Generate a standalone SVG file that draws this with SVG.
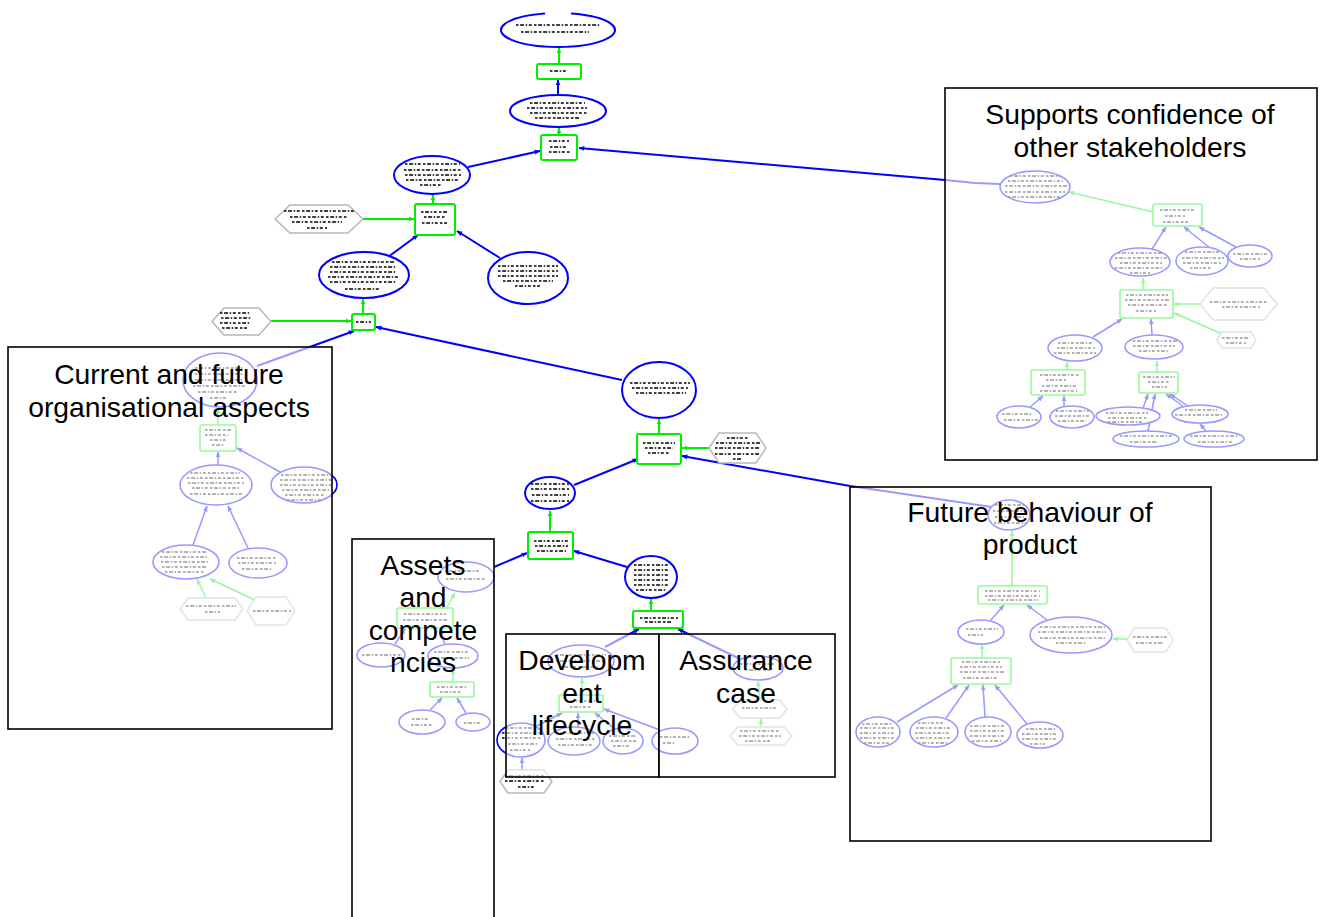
<svg xmlns="http://www.w3.org/2000/svg" width="1323" height="917" viewBox="0 0 1323 917">
<style>
.e{fill:#fff;stroke:#0000ff;stroke-width:2}
.e2{fill:#fff;stroke:#0000ff;stroke-width:1.6}
.r{fill:#fff;stroke:#00ee00;stroke-width:2}
.r2{fill:#fff;stroke:#00ee00;stroke-width:1.6}
.h{fill:#fff;stroke:#b8b8b8;stroke-width:1.5}
.t{fill:none;stroke:#000;stroke-width:1.7;stroke-dasharray:2.5 1.6 4 1.6 1.5 1.6 3 2.2}
.t2{fill:none;stroke:#000;stroke-width:1.3;stroke-dasharray:2.5 1.6 4 1.6 1.5 1.6 3 2.2}
.cb{fill:none;stroke:#0000ff;stroke-width:2;marker-end:url(#ab)}
.cg{fill:none;stroke:#00ee00;stroke-width:2;marker-end:url(#ag)}
.cb2{fill:none;stroke:#0000ff;stroke-width:1.5;marker-end:url(#ab)}
.cg2{fill:none;stroke:#00ee00;stroke-width:1.5;marker-end:url(#ag)}
.box{fill:#fff;fill-opacity:.6;stroke:#000;stroke-width:1.6}
.lbl{font-family:"Liberation Sans",Arial,Helvetica,sans-serif;font-size:28.3px;text-anchor:middle;fill:#000}
</style>
<defs>
<marker id="ab" viewBox="0 0 10 10" refX="9" refY="5" markerWidth="6" markerHeight="6" orient="auto" markerUnits="userSpaceOnUse"><path d="M0 1L10 5L0 9z" fill="#0000ff"/></marker>
<marker id="ag" viewBox="0 0 10 10" refX="9" refY="5" markerWidth="6" markerHeight="6" orient="auto" markerUnits="userSpaceOnUse"><path d="M0 1L10 5L0 9z" fill="#00ee00"/></marker>
</defs>
<rect width="1323" height="917" fill="#fff"/>

<g id="connectors">
<path class="cg" d="M559 64L559 48"/>
<path class="cb" d="M558 95L558 80"/>
<path class="cg" d="M559 135L559 128"/>
<path class="cb" d="M468 167L540 151"/>
<path class="cb" d="M1000 184L975 183L945 180L579 148"/>
<path class="cg" d="M433 204L433 195"/>
<path class="cg" d="M363 219L414 219"/>
<path class="cb" d="M388 257L418 235"/>
<path class="cb" d="M500 258L457 231"/>
<path class="cg" d="M363 314L363 299"/>
<path class="cg" d="M271 321L351 321"/>
<path class="cb" d="M257 366L354 331"/>
<path class="cb" d="M622 380L376 327"/>
<path class="cg" d="M659 434L659 419"/>
<path class="cg" d="M709 448L682 448"/>
<path class="cb" d="M992 507L850 486L682 456"/>
<path class="cb" d="M574 485L638 459"/>
<path class="cg" d="M550 532L550 511"/>
<path class="cb" d="M494 567L527 553"/>
<path class="cb" d="M627 567L574 551"/>
<path class="cg" d="M651 611L651 599"/>
<path class="cb" d="M605 647L639 629"/>
<path class="cb" d="M740 659L678 629"/>
<path class="cg2" d="M1153 212L1069 192"/>
<path class="cb2" d="M1152 249L1166 227"/>
<path class="cb2" d="M1210 248L1184 227"/>
<path class="cb2" d="M1236 247L1199 227"/>
<path class="cg2" d="M1143 290L1143 278"/>
<path class="cg2" d="M1200 304L1174 304"/>
<path class="cg2" d="M1222 334L1174 313"/>
<path class="cb2" d="M1093 337L1122 319"/>
<path class="cb2" d="M1152 335L1151 319"/>
<path class="cg2" d="M1067 370L1067 362"/>
<path class="cg2" d="M1157 372L1157 361"/>
<path class="cb2" d="M1030 407L1043 396"/>
<path class="cb2" d="M1064 406L1064 396"/>
<path class="cb2" d="M1143 408L1148 394"/>
<path class="cb2" d="M1148 431L1155 394"/>
<path class="cb2" d="M1188 406L1170 394"/>
<path class="cb2" d="M1183 406L1166 394"/>
<path class="cb2" d="M1206 431L1200 424"/>
<path class="cg2" d="M218 425L218 408"/>
<path class="cb2" d="M218 465L218 452"/>
<path class="cb2" d="M280 472L237 448"/>
<path class="cb2" d="M193 545L207 506"/>
<path class="cb2" d="M248 548L228 506"/>
<path class="cg2" d="M206 598L197 579"/>
<path class="cg2" d="M255 600L210 579"/>
<path class="cg2" d="M447 607L455 593"/>
<path class="cb2" d="M395 644L405 629"/>
<path class="cb2" d="M445 645L440 629"/>
<path class="cg2" d="M453 682L453 669"/>
<path class="cb2" d="M430 710L442 698"/>
<path class="cb2" d="M466 713L457 698"/>
<path class="cg2" d="M582 695L582 678"/>
<path class="cb2" d="M537 726L562 713"/>
<path class="cb2" d="M578 727L578 713"/>
<path class="cb2" d="M615 729L595 713"/>
<path class="cb2" d="M660 730L604 709"/>
<path class="cb2" d="M522 770L522 758"/>
<path class="cg2" d="M760 700L758 681"/>
<path class="cg2" d="M761 727L761 719"/>
<path class="cg2" d="M1012 586L1012 531"/>
<path class="cb2" d="M990 621L1004 605"/>
<path class="cb2" d="M1047 620L1027 605"/>
<path class="cg2" d="M1127 639L1113 639"/>
<path class="cg2" d="M982 658L982 644"/>
<path class="cb2" d="M897 722L958 685"/>
<path class="cb2" d="M946 718L969 685"/>
<path class="cb2" d="M985 717L983 685"/>
<path class="cb2" d="M1027 724L995 685"/>
</g>

<g id="n1"><path class="e" d="M571 13.45A57 17 0 1 1 545 13.45"/><path class="t" d="M516 25h84M521 32h68"/></g>
<g id="n2"><rect class="r" x="537" y="64" width="44" height="15" rx="2"/><path class="t" d="M550 71h18"/></g>
<g id="n3"><ellipse class="e" cx="558" cy="111" rx="48" ry="16"/><path class="t" d="M530 103h55M527 108h60M530 113h57M535 118h45"/></g>
<g id="n4"><rect class="r" x="541" y="135" width="36" height="25" rx="2"/><path class="t" d="M549 141h20M550 147h18M549 152h21"/></g>
<g id="n5"><ellipse class="e" cx="432" cy="175" rx="38" ry="19"/><path class="t" d="M405 164h55M404 170h57M405 175h56M406 180h53M420 185h22"/></g>
<g id="n6"><rect class="r" x="415" y="204" width="40" height="31" rx="2"/><path class="t" d="M421 212h27M424 217h22M422 223h25"/></g>
<g id="n7"><polygon class="h" points="275,219 290,205 348,205 363,219 348,233 290,233"/><path class="t" d="M284 211h70M290 217h57M292 222h50M307 228h20"/></g>
<g id="n8"><ellipse class="e" cx="364" cy="275" rx="45" ry="23"/><path class="t" d="M332 262h62M330 267h66M330 272h66M328 277h70M330 282h66M345 289h35"/></g>
<g id="n9"><ellipse class="e" cx="528" cy="278" rx="40" ry="26"/><path class="t" d="M498 266h60M498 271h60M498 276h60M503 281h50M515 286h25"/></g>
<g id="n10"><rect class="r" x="352" y="314" width="23" height="16" rx="2"/><path class="t" d="M356 322h15"/></g>
<g id="n11"><polygon class="h" points="212,321.5 224,308 259,308 271,321.5 259,335 224,335"/><path class="t" d="M220 313h30M221 318h30M220 323h30M222 328h25"/></g>
<g id="n12"><ellipse class="e" cx="659" cy="390" rx="37" ry="28"/><path class="t" d="M630 383h60M632 388h56M636 393h50"/></g>
<g id="n13"><rect class="r" x="637" y="434" width="44" height="30" rx="2"/><path class="t" d="M643 443h32M645 448h28M648 453h22"/></g>
<g id="n14"><polygon class="h" points="709,448 719,433 756,433 766,448 756,463 719,463"/><path class="t" d="M727 438h22M716 443h44M715 448h45M715 454h45M733 459h8"/></g>
<g id="n15"><ellipse class="e" cx="550" cy="493" rx="25" ry="16"/><path class="t" d="M531 484h38M531 489h38M532 495h37M531 501h38"/></g>
<g id="n16"><rect class="r" x="528" y="532" width="45" height="27" rx="2"/><path class="t" d="M534 541h34M535 546h33M537 551h29"/></g>
<g id="n17"><ellipse class="e" cx="651" cy="577" rx="26" ry="21"/><path class="t" d="M634 565h35M634 570h34M634 575h34M634 580h34M634 585h34M636 590h30"/></g>
<g id="n18"><rect class="r" x="633" y="611" width="50" height="17" rx="2"/><path class="t" d="M640 618h38M645 622h26"/></g>

<g id="s1"><ellipse class="e2" cx="1035" cy="187" rx="35" ry="16"/><path class="t2" d="M1010 176h50M1008 181h55M1005 186h62M1005 192h60M1008 197h55"/></g>
<g id="s2"><rect class="r2" x="1153" y="204" width="49" height="22" rx="2"/><path class="t2" d="M1160 210h35M1165 216h20M1163 222h25"/></g>
<g id="s3"><ellipse class="e2" cx="1140" cy="262" rx="30" ry="14"/><path class="t2" d="M1118 253h45M1115 258h53M1120 263h42M1115 268h48M1130 273h20"/></g>
<g id="s4"><ellipse class="e2" cx="1202" cy="261" rx="26" ry="14"/><path class="t2" d="M1185 252h35M1182 258h42M1183 263h38M1190 268h22"/></g>
<g id="s5"><ellipse class="e2" cx="1250" cy="256" rx="22" ry="11"/><path class="t2" d="M1233 254h35M1240 259h20"/></g>
<g id="s6"><rect class="r2" x="1120" y="290" width="53" height="28" rx="2"/><path class="t2" d="M1126 295h42M1125 300h45M1128 305h40M1136 311h20"/></g>
<g id="s7"><polygon class="h" points="1200,304 1213,288 1264,288 1277,304 1264,320 1213,320"/><path class="t2" d="M1210 302h58M1222 307h38"/></g>
<g id="s8"><polygon class="h" points="1217,340 1222,332 1251,332 1256,340 1251,348 1222,348"/><path class="t2" d="M1222 338h28M1226 343h20"/></g>
<g id="s9"><ellipse class="e2" cx="1075" cy="348" rx="27" ry="13"/><path class="t2" d="M1058 343h35M1057 348h38M1054 353h42"/></g>
<g id="s10"><ellipse class="e2" cx="1154" cy="347" rx="29" ry="12"/><path class="t2" d="M1133 341h45M1133 346h42M1139 351h30"/></g>
<g id="s11"><rect class="r2" x="1031" y="370" width="54" height="25" rx="2"/><path class="t2" d="M1040 375h40M1046 380h20M1042 386h35M1040 391h37"/></g>
<g id="s12"><rect class="r2" x="1139" y="372" width="39" height="21" rx="2"/><path class="t2" d="M1143 377h32M1148 382h22M1152 387h15"/></g>
<g id="s13"><ellipse class="e2" cx="1019" cy="417" rx="22" ry="11"/><path class="t2" d="M1002 414h30M1004 420h34"/></g>
<g id="s14"><ellipse class="e2" cx="1072" cy="417" rx="22" ry="11"/><path class="t2" d="M1056 411h33M1055 416h35M1058 421h28"/></g>
<g id="s15"><ellipse class="e2" cx="1128" cy="416" rx="32" ry="9"/><path class="t2" d="M1106 413h42M1108 418h40M1108 422h35"/></g>
<g id="s16"><ellipse class="e2" cx="1200" cy="414" rx="28" ry="9"/><path class="t2" d="M1185 410h32M1175 415h48"/></g>
<g id="s17"><ellipse class="e2" cx="1146" cy="439" rx="33" ry="8"/><path class="t2" d="M1120 436h52M1130 442h28"/></g>
<g id="s18"><ellipse class="e2" cx="1214" cy="439" rx="30" ry="8"/><path class="t2" d="M1190 436h48M1198 442h35"/></g>

<g id="c1"><ellipse class="e2" cx="220" cy="380" rx="37" ry="27"/><path class="t2" d="M195 368h48M195 374h48M195 380h48M193 386h52M198 392h40M210 398h18"/></g>
<g id="c2"><rect class="r2" x="200" y="425" width="36" height="26" rx="2"/><path class="t2" d="M205 430h27M205 435h23M210 440h16M212 445h12"/></g>
<g id="c3"><ellipse class="e2" cx="216" cy="485" rx="36" ry="20"/><path class="t2" d="M190 473h50M187 478h56M188 483h56M192 488h48M190 494h52"/></g>
<g id="c4"><ellipse class="e2" cx="304" cy="485" rx="33" ry="18"/><path class="t2" d="M281 475h50M280 480h52M280 485h52M282 490h48M285 495h40M287 500h35"/></g>
<g id="c5"><ellipse class="e2" cx="186" cy="562" rx="33" ry="17"/><path class="t2" d="M162 552h45M160 557h48M161 562h48M162 567h45M165 572h40"/></g>
<g id="c6"><ellipse class="e2" cx="258" cy="563" rx="29" ry="15"/><path class="t2" d="M237 558h40M238 563h38M242 569h30"/></g>
<g id="c7"><polygon class="h" points="180,609 188,598 235,598 243,609 235,620 188,620"/><path class="t2" d="M186 606h50M205 612h15"/></g>
<g id="c8"><polygon class="h" points="247,611 256,597 286,597 295,611 286,625 256,625"/><path class="t2" d="M253 611h38"/></g>

<g id="a1"><ellipse class="e2" cx="466" cy="577" rx="28" ry="15"/><path class="t2" d="M445 571h35M446 579h40"/></g>
<g id="a2"><rect class="r2" x="397" y="608" width="56" height="20" rx="2"/><path class="t2" d="M404 614h42M403 620h45"/></g>
<g id="a3"><ellipse class="e2" cx="381" cy="655" rx="24" ry="12"/><path class="t2" d="M362 655h40"/></g>
<g id="a4"><ellipse class="e2" cx="453" cy="656" rx="25" ry="12"/><path class="t2" d="M434 652h36M437 658h32"/></g>
<g id="a5"><rect class="r2" x="430" y="682" width="44" height="15" rx="2"/><path class="t2" d="M437 687h30M440 692h22"/></g>
<g id="a6"><ellipse class="e2" cx="422" cy="722" rx="23" ry="12"/><path class="t2" d="M412 719h18M411 725h22"/></g>
<g id="a7"><ellipse class="e2" cx="473" cy="722" rx="17" ry="9"/><path class="t2" d="M464 723h18"/></g>

<g id="d1"><ellipse class="e2" cx="581" cy="661" rx="33" ry="16"/><path class="t2" d="M556 655h50M556 661h48M560 667h40"/></g>
<g id="d2"><rect class="r2" x="559" y="695" width="44" height="17" rx="2"/><path class="t2" d="M566 701h32M570 707h22"/></g>
<g id="d3"><ellipse class="e2" cx="521" cy="740" rx="24" ry="17"/><path class="t2" d="M506 728h30M502 733h38M502 738h40M508 744h30M510 750h20"/></g>
<g id="d4"><ellipse class="e2" cx="574" cy="741" rx="26" ry="14"/><path class="t2" d="M556 733h38M556 739h40M558 745h36"/></g>
<g id="d5"><ellipse class="e2" cx="623" cy="741" rx="20" ry="13"/><path class="t2" d="M609 736h28M611 741h25M613 746h18"/></g>
<g id="d6"><ellipse class="e2" cx="675" cy="741" rx="23" ry="13"/><path class="t2" d="M660 737h30M663 743h12"/></g>
<g id="d7"><polygon class="h" points="500,781.5 508,770 544,770 552,781.5 544,793 508,793"/><path class="t2" d="M505 776h40M505 781h40M518 787h16"/></g>

<g id="u1"><ellipse class="e2" cx="758" cy="668" rx="25" ry="12"/><path class="t2" d="M740 664h36M745 670h25"/></g>
<g id="u2"><polygon class="h" points="733,709 740,700 780,700 787,709 780,718 740,718"/><path class="t2" d="M742 708h36"/></g>
<g id="u3"><polygon class="h" points="730,736 738,727 784,727 792,736 784,745 738,745"/><path class="t2" d="M740 731h40M739 736h42M745 741h25"/></g>

<g id="f1"><ellipse class="e2" cx="1009" cy="515" rx="21" ry="15"/><path class="t2" d="M995 505h30M993 511h34M995 517h30M994 523h32"/></g>
<g id="f2"><rect class="r2" x="978" y="586" width="69" height="18" rx="2"/><path class="t2" d="M985 591h55M985 596h55M988 600h50"/></g>
<g id="f3"><ellipse class="e2" cx="981" cy="632" rx="23" ry="12"/><path class="t2" d="M966 629h32M968 635h15"/></g>
<g id="f4"><ellipse class="e2" cx="1071" cy="635" rx="41" ry="18"/><path class="t2" d="M1040 627h65M1038 632h68M1040 638h65M1056 643h30"/></g>
<g id="f5"><polygon class="h" points="1127,640 1134,628 1166,628 1173,640 1166,652 1134,652"/><path class="t2" d="M1133 637h34M1136 643h28"/></g>
<g id="f6"><rect class="r2" x="951" y="658" width="60" height="26" rx="2"/><path class="t2" d="M962 662h38M960 667h42M960 672h44M963 678h36"/></g>
<g id="f7"><ellipse class="e2" cx="878" cy="732" rx="22" ry="15"/><path class="t2" d="M862 724h30M860 728h34M860 733h34M860 738h34M864 743h25"/></g>
<g id="f8"><ellipse class="e2" cx="934" cy="732" rx="24" ry="15"/><path class="t2" d="M918 723h25M916 728h34M915 733h36M916 738h34M918 743h30"/></g>
<g id="f9"><ellipse class="e2" cx="988" cy="732" rx="23" ry="15"/><path class="t2" d="M970 726h35M970 731h35M970 736h35M972 741h30"/></g>
<g id="f10"><ellipse class="e2" cx="1040" cy="735" rx="23" ry="13"/><path class="t2" d="M1026 729h30M1022 734h36M1022 739h36M1030 744h15"/></g>

<g id="box-supports"><rect class="box" x="945" y="88" width="372" height="372"/><text class="lbl" x="1130" y="124">Supports confidence of</text><text class="lbl" x="1130" y="157">other stakeholders</text></g>
<g id="box-current"><rect class="box" x="8" y="347" width="324" height="382"/><text class="lbl" x="169" y="384">Current and future</text><text class="lbl" x="169" y="417">organisational aspects</text></g>
<g id="box-future"><rect class="box" x="850" y="487" width="361" height="354"/><text class="lbl" x="1030" y="522">Future behaviour of</text><text class="lbl" x="1030" y="554">product</text></g>
<g id="box-assets"><rect class="box" x="352" y="539" width="142" height="390"/><text class="lbl" x="423" y="575">Assets</text><text class="lbl" x="423" y="607">and</text><text class="lbl" x="423" y="640">compete</text><text class="lbl" x="423" y="672">ncies</text></g>
<g id="box-development"><rect class="box" x="506" y="634" width="153" height="143"/><text class="lbl" x="582" y="670">Developm</text><text class="lbl" x="582" y="703">ent</text><text class="lbl" x="582" y="735">lifecycle</text></g>
<g id="box-assurance"><rect class="box" x="659" y="634" width="176" height="143"/><text class="lbl" x="746" y="670">Assurance</text><text class="lbl" x="746" y="703">case</text></g>
</svg>
